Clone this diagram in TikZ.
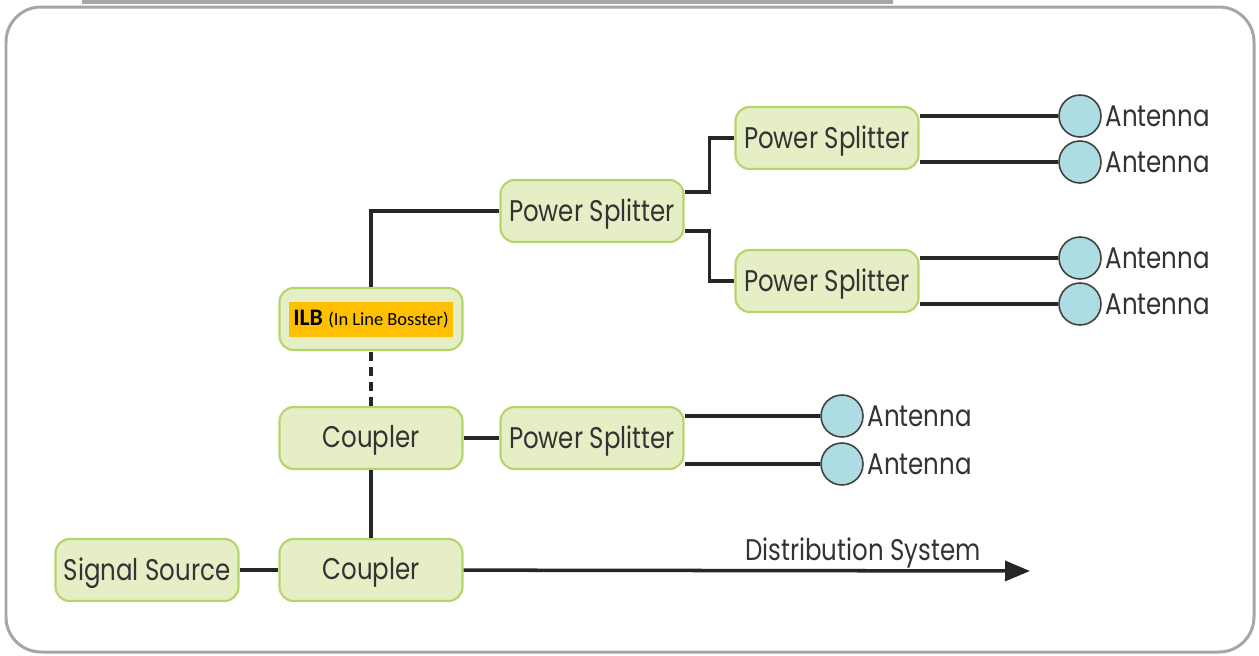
\documentclass[tikz,border=0pt]{standalone}
\usepackage{fontspec}
\setmainfont[FakeStretch=0.82]{Poppins}
\newfontfamily\calib{Carlito}
\usetikzlibrary{arrows.meta}
\definecolor{boxfill}{HTML}{E6EEC6}
\definecolor{boxline}{HTML}{B4D56A}
\definecolor{antfill}{HTML}{ADDCE3}
\definecolor{framegray}{HTML}{A6A6A8}
\definecolor{ilborange}{HTML}{FFC000}
\tikzset{
  unit/.style={draw=boxline, fill=boxfill, line width=1.2pt, rounded corners=8pt,
    minimum width=3.66cm, minimum height=1.24cm, font=\fontsize{17}{17}\selectfont, text=black!80,
    text depth=0.05cm},
  ant/.style={circle, draw=black!75, fill=antfill, line width=0.9pt, minimum size=0.84cm, inner sep=0pt,
    label={[font=\fontsize{17}{17}\selectfont, text=black!80, inner sep=2pt]right:Antenna}},
  wire/.style={line width=2pt, black!85},
}
\begin{document}
\begin{tikzpicture}[x=0.02cm, y=-0.02cm]
\useasboundingbox (0,0) rectangle (1259,656);
% frame
\fill[framegray] (82,0) rectangle (893,4);
\draw[framegray, line width=0.06cm, rounded corners=0.7cm] (6,7) rectangle (1254,652);
% units
\node[unit] (src) at (147,570) {Signal Source};
\node[unit] (c1) at (371,570) {Coupler};
\node[unit] (c2) at (371,438) {Coupler};
\node[unit] (ilb) at (371,319) {};
\node[fill=ilborange, minimum width=3.28cm, minimum height=0.7cm, inner sep=0pt, font=\calib] (ilbtag) at (ilb)
  {\fontsize{13.5}{13.5}\selectfont\bfseries ILB \fontsize{10.5}{10.5}\selectfont\mdseries(In Line Bosster)};
\node[unit] (ps1) at (592,438) {Power Splitter};
\node[unit] (ps2) at (592,211) {Power Splitter};
\node[unit] (ps3) at (827,138) {Power Splitter};
\node[unit] (ps4) at (827,281) {Power Splitter};
% antennas
\node[ant] (a1) at (1080,116) {};
\node[ant] (a2) at (1080,162) {};
\node[ant] (a3) at (1080,258) {};
\node[ant] (a4) at (1080,304) {};
\node[ant] (a5) at (842,416) {};
\node[ant] (a6) at (842,464) {};
% wiring
\draw[wire] (src) -- (c1);
\draw[wire] (c1) -- (c2);
\draw[wire] (c2) -- (ps1);
\draw[wire, dash pattern=on 0.18cm off 0.12cm] (c2) -- (ilb);
\draw[wire] (ilb) |- (ps2);
\draw[wire] ([yshift=0.38cm]ps2.east) -- ++(0.5cm,0) |- (ps3);
\draw[wire] ([yshift=-0.4cm]ps2.east) -- ++(0.5cm,0) |- (ps4);
\foreach \a/\p in {a1/ps3, a2/ps3, a3/ps4, a4/ps4, a5/ps1, a6/ps1}
  \draw[wire] (\a.west) -- (\a -| \p.east);
\coordinate (dsend) at (1030,571);
\draw[wire, -{Triangle[length=0.5cm, width=0.4cm]}] (c1) -- (dsend);
\node[font=\fontsize{17}{17}\selectfont, text=black!80] (dslabel) at (863,553) {Distribution System};
\end{tikzpicture}
\end{document}
